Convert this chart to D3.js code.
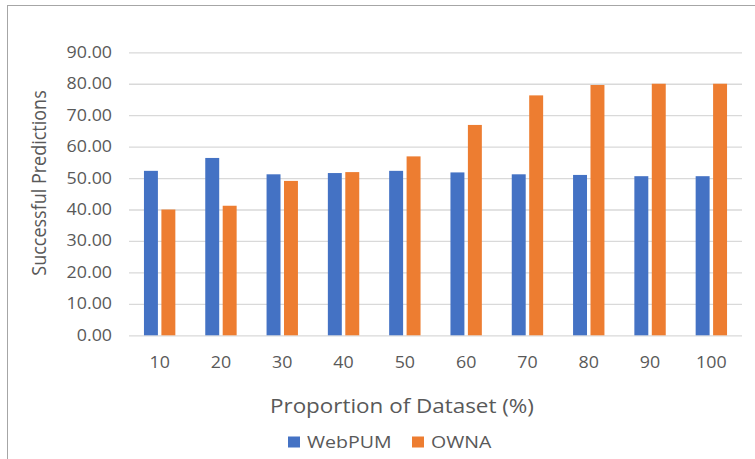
<!DOCTYPE html>
<html>
<head>
<meta charset="utf-8">
<script src="https://cdn.jsdelivr.net/npm/d3@7"></script>
<style>
  html, body { margin: 0; padding: 0; background: #fff; }
  svg { display: block; }
  text { font-family: "Open Sans", "Noto Sans", sans-serif; fill: #595959; }
</style>
</head>
<body>
<script>
// Proportion of dataset used (%)
const categories = ["10", "20", "30", "40", "50", "60", "70", "80", "90", "100"];
const seriesNames = ["WebPUM", "OWNA"];
const webpum = [52.3, 56.4, 51.2, 51.6, 52.3, 51.8, 51.2, 51.0, 50.6, 50.6];
const owna   = [40.0, 41.2, 49.1, 51.9, 56.9, 66.9, 76.3, 79.6, 80.0, 80.0];
const yTicks = [0, 10, 20, 30, 40, 50, 60, 70, 80, 90];
const colors = ["#4472C4", "#ED7D31"];

const W = 755, H = 459;
const plot = { left: 129, right: 742, top: 52.3, bottom: 335.3 };
const SX = 1.15; // horizontal text stretch

const svg = d3.select("body").append("svg").attr("width", W).attr("height", H);

// widen a text element horizontally around its own anchor point
function stretch(sel) {
  sel.each(function () {
    const t = d3.select(this);
    const a = +t.attr("x") || 0, b = +t.attr("y") || 0;
    t.attr("transform", `translate(${a},${b}) scale(${SX},1) translate(${-a},${-b})`);
  });
}

// chart frame (top and left edges visible)
svg.append("line").attr("x1", 7).attr("x2", W).attr("y1", 5.5).attr("y2", 5.5)
  .attr("stroke", "#a6a6a6").attr("stroke-width", 1);
svg.append("line").attr("x1", 7.5).attr("x2", 7.5).attr("y1", 5).attr("y2", H)
  .attr("stroke", "#a6a6a6").attr("stroke-width", 1);

const y = d3.scaleLinear().domain([0, 90]).range([plot.bottom, plot.top]);
const x0 = d3.scaleBand().domain(categories).range([plot.left, plot.right])
  .paddingInner(0.488).paddingOuter(0.244);
const x1 = d3.scaleBand().domain(seriesNames).range([0, x0.bandwidth()]).paddingInner(0.2);

// gridlines + y tick labels
const yAxis = d3.axisLeft(y).tickValues(yTicks).tickFormat(d3.format(".2f"))
  .tickSize(-(plot.right - plot.left)).tickPadding(17);
const gy = svg.append("g").attr("transform", `translate(${plot.left},0)`).call(yAxis);
gy.select(".domain").remove();
gy.selectAll(".tick line").attr("stroke", "#d9d9d9").attr("stroke-width", 1.3);
gy.selectAll(".tick text").style("font-size", "15.5px").attr("fill", "#595959").call(stretch);

// x tick labels
const xAxis = d3.axisBottom(x0).tickSize(0).tickPadding(22);
const gx = svg.append("g").attr("transform", `translate(0,${plot.bottom})`).call(xAxis);
gx.select(".domain").remove();
gx.selectAll(".tick text").style("font-size", "15.5px").attr("fill", "#595959").call(stretch);

// bars
const rows = categories.map((c, i) => ({ cat: c, vals: [webpum[i], owna[i]] }));
const groups = svg.append("g").selectAll("g").data(rows).join("g")
  .attr("transform", d => `translate(${x0(d.cat)},0)`);
groups.selectAll("rect")
  .data(d => d.vals.map((v, j) => ({ name: seriesNames[j], v, j })))
  .join("rect")
  .attr("x", d => x1(d.name))
  .attr("width", x1.bandwidth())
  .attr("y", d => y(d.v))
  .attr("height", d => y(0) - y(d.v))
  .attr("fill", d => colors[d.j]);

// axis titles
svg.append("text")
  .attr("transform", `translate(45.5,183) scale(${SX},1) rotate(-90)`)
  .attr("text-anchor", "middle")
  .style("font-size", "18px")
  .text("Successful Predictions");

svg.append("text")
  .attr("x", 402).attr("y", 413)
  .attr("text-anchor", "middle")
  .style("font-size", "19.5px")
  .text("Proportion of Dataset (%)")
  .call(stretch);

// legend
const legend = svg.append("g");
const legendItems = [{ name: "WebPUM", x: 288 }, { name: "OWNA", x: 412 }];
legendItems.forEach((it, i) => {
  legend.append("rect").attr("x", it.x).attr("y", 436.5).attr("width", 12).attr("height", 11)
    .attr("fill", colors[i]);
  legend.append("text").attr("x", it.x + 19).attr("y", 448.5)
    .style("font-size", "17px").text(it.name).call(stretch);
});
</script>
</body>
</html>
